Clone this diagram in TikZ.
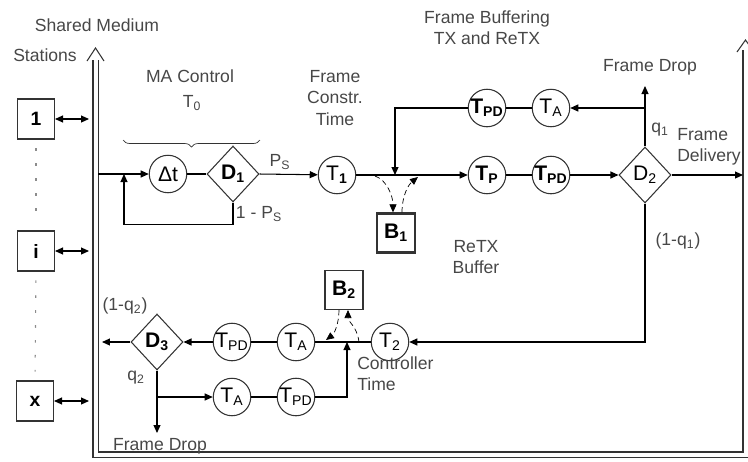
\documentclass[tikz,border=0pt]{standalone}
\usepackage{fontspec}
\setmainfont{Liberation Sans}
\usetikzlibrary{shapes.geometric,arrows.meta,decorations.pathreplacing}

\begin{document}
\begin{tikzpicture}[x=0.02cm, y=-0.02cm, line width=0.6pt,
    >={Triangle[length=1.6mm,width=1.4mm]},
    lbl/.style={text=black!72, font=\fontsize{10}{12}\selectfont, align=center, inner sep=1pt},
    delay/.style={circle, draw=black!80, minimum size=0.75cm, inner sep=0pt, font=\fontsize{12}{13}\selectfont},
    decide/.style={diamond, draw=black!80, minimum width=1.04cm, minimum height=1.12cm, inner sep=0pt, font=\fontsize{12}{13}\selectfont},
    station/.style={rectangle, draw=black!80, minimum width=0.74cm, minimum height=0.8cm, inner sep=0pt, font=\fontsize{11}{12}\selectfont\bfseries},
    buffer/.style={rectangle, draw=black!80, minimum width=0.76cm, minimum height=0.78cm, inner sep=0pt, font=\fontsize{12}{13}\selectfont\bfseries},
    trace/.style={->, densely dashed, line width=0.4pt}]
    \useasboundingbox (0,0) rectangle (748,461);

    % Shared medium
    \draw[black!80, double, double distance=0.08cm] (95.5,60) -- (95.5,454.5) -- (745.5,454.5) -- (745.5,50);
    \draw[black!80] (87,61) -- (95.5,48) -- (104,61);
    \draw[black!80] (737,52) -- (745.5,40) -- (754,52);
    \node[lbl] (medium) at (97,25) {Shared Medium};
    \node[lbl] (stlabel) at (45,55) {Stations};

    % Stations
    \node[station] (s1) at (36,119) {1};
    \node[station] (si) at (36,251) {i};
    \node[station] (sx) at (35,401) {x};
    \coordinate (m1) at (89,119);
    \coordinate (mi) at (89,251);
    \coordinate (mx) at (89,401);
    \draw[<->] (s1.east) -- (m1);
    \draw[<->] (si.east) -- (mi);
    \draw[<->] (sx.east) -- (mx);
    \draw[black!45, dash pattern=on 1.5pt off 7pt, shorten <=5pt, shorten >=5pt] (s1.south) -- (si.north);
    \draw[black!45, dash pattern=on 1.5pt off 7pt, shorten <=5pt, shorten >=5pt] (si.south) -- (sx.north);

    % MA control
    \node[lbl] (ma) at (190,76) {MA Control};
    \node[lbl] (t0) at (192,103) {T\textsubscript{0}};
    \draw[black!80, line width=0.4pt, decorate, decoration={brace, amplitude=0.14cm}] (260,140) -- (123,140);
    \coordinate (in0) at (98,174);
    \coordinate (fb) at (124,174);
    \node[delay] (dt) at (168,174) {Δt};
    \node[decide] (d1) at (233,174) {\textbf{D\textsubscript{1}}};
    \draw[->] (in0) -- (dt);
    \draw (dt) -- (d1);
    \draw[->] (d1.south) -- ++(0,22) -| (fb);
    \node[lbl] (ps) at (280,162) {P\textsubscript{S}};
    \node[lbl] (nps) at (259,214) {1 - P\textsubscript{S}};

    % Frame construction and TX buffering
    \node[lbl] (constr) at (335,98) {Frame\\Constr.\\Time};
    \node[lbl] (buffering) at (487,28) {Frame Buffering\\TX and ReTX};
    \node[delay] (t1) at (337,175) {T\textsubscript{\textbf{1}}};
    \node[delay] (tp) at (487,175) {\textbf{T\textsubscript{P}}};
    \node[delay] (tpd1) at (551,175) {\textbf{T\textsubscript{PD}}};
    \node[decide] (d2) at (645,175) {D\textsubscript{2}};
    \node[delay] (tpdtop) at (487,108) {\textbf{T\textsubscript{PD}}};
    \node[delay] (ta1) at (551,108) {T\textsubscript{A}};
    \coordinate (j1) at (395,175);
    \coordinate (c1) at (645,108);
    \coordinate (drop1) at (645,86);
    \coordinate (deliv) at (743,175);
    \draw[->] (d1.east) -- (t1);
    \draw[->] (t1) -- (tp);
    \draw (tp) -- (tpd1);
    \draw[->] (tpd1) -- (d2);
    \draw[->] (d2.north) -- (drop1);
    \draw[->] (c1) -- (ta1);
    \draw (ta1) -- (tpdtop);
    \draw[->] (tpdtop) -| (j1);
    \draw[->] (d2.east) -- (deliv);
    \node[lbl] (drop1txt) at (650,67) {Frame Drop};
    \node[lbl] (q1) at (660,130) {q\textsubscript{1}};
    \node[lbl, anchor=west, align=left] (delivtxt) at (675,147) {Frame\\Delivery};
    \node[lbl] (nq1) at (678,241) {(1-q\textsubscript{1})};

    % ReTX buffer
    \node[buffer, line width=1.3pt] (b1) at (396,233) {B\textsubscript{1}};
    \node[lbl] (retx) at (476,257) {ReTX\\Buffer};
    \coordinate (a1) at (375,176);
    \coordinate (a2) at (418,177);
    \draw[trace] (a1) .. controls +(12,4) and +(0,-16) .. ([xshift=-0.06cm]b1.north);
    \draw[trace] ([xshift=0.12cm]b1.north) .. controls +(0,-16) and +(-10,8) .. (a2);

    % Retransmission path
    \node[delay] (t2) at (390,342) {T\textsubscript{2}};
    \node[delay] (ta2) at (296,342) {T\textsubscript{A}};
    \node[delay] (tpd2) at (232,342) {T\textsubscript{PD}};
    \node[decide] (d3) at (157,342) {\textbf{D\textsubscript{3}}};
    \node[delay] (ta3) at (232,397) {T\textsubscript{A}};
    \node[delay] (tpd3) at (296,397) {T\textsubscript{PD}};
    \coordinate (j2) at (347,342);
    \coordinate (out3) at (102,342);
    \coordinate (drop2) at (157,433);
    \coordinate (br) at (157,397);
    \draw[->] (d2.south) |- (t2);
    \draw (t2) -- (ta2);
    \draw (ta2) -- (tpd2);
    \draw[->] (tpd2) -- (d3);
    \draw[->] (d3.west) -- (out3);
    \draw[->] (d3.south) -- (drop2);
    \draw[->] (br) -- (ta3);
    \draw (ta3) -- (tpd3);
    \draw[->] (tpd3) -| (j2);
    \node[lbl] (nq2) at (125,306) {(1-q\textsubscript{2})};
    \node[lbl] (q2) at (136,378) {q\textsubscript{2}};
    \node[lbl] (drop2txt) at (160,446) {Frame Drop};
    \node[lbl, anchor=west, align=left] (ctrl) at (355,374) {Controller\\Time};

    % Controller buffer
    \node[buffer] (b2) at (344,290) {B\textsubscript{2}};
    \coordinate (a3) at (326,340);
    \coordinate (a4) at (359,342);
    \draw[trace] ([xshift=-0.1cm]b2.south) .. controls +(0,14) and +(8,-6) .. (a3);
    \draw[trace] (a4) .. controls +(-2,-16) and +(0,12) .. ([xshift=0.08cm]b2.south);
\end{tikzpicture}
\end{document}
